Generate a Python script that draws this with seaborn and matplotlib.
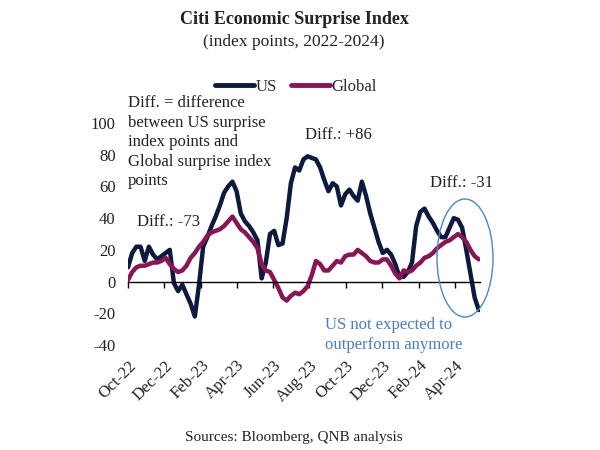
import numpy as np
import pandas as pd
import matplotlib
matplotlib.use("Agg")
import matplotlib.pyplot as plt
import matplotlib.dates as mdates
from matplotlib.patches import Ellipse
import seaborn as sns

# ---- data (weekly readings, index points) ----
start_date = "2022-10-01"
us_values = [9, 18, 22, 22, 13, 22, 17, 14, 16, 18,
             20, -1, -6, -2, -8, -14, -22, -2, 22, 28,
             35, 41, 48, 56, 60, 63, 57, 43, 38, 35,
             31, 26, 2, 12, 30, 32, 23, 24, 40, 62,
             72, 70, 77, 79, 78, 77, 72, 64, 57, 62,
             60, 48, 55, 58, 54, 51, 63, 54, 43, 34,
             25, 18, 20, 17, 11, 3, 3, 6, 12, 35,
             44, 46, 41, 37, 32, 28, 28, 34, 40, 39,
             34, 20, 5, -10, -18]
global_values = [1, 6, 9, 10, 10, 11, 12, 12, 13, 15,
                 11, 8, 6, 7, 10, 15, 18, 22, 25, 29,
                 31, 32, 33, 35, 38, 41, 37, 33, 31, 28,
                 25, 21, 11, 7, 6, 1, -4, -10, -12, -9,
                 -7, -8, -6, -3, 4, 13, 11, 7, 7, 10,
                 13, 12, 16, 17, 17, 20, 18, 16, 13, 12,
                 12, 14, 14, 10, 5, 2, 7, 6, 7, 10,
                 12, 15, 16, 18, 21, 23, 25, 26, 28, 30,
                 28, 25, 20, 16, 14]
series_names = ["US", "Global"]
series_colors = ["#0d1a3d", "#8a1553"]
tick_dates = ["2022-10-01", "2022-12-01", "2023-02-01", "2023-04-01", "2023-06-01",
              "2023-08-01", "2023-10-01", "2023-12-01", "2024-02-01", "2024-04-01"]
tick_labels = ["Oct-22", "Dec-22", "Feb-23", "Apr-23", "Jun-23",
               "Aug-23", "Oct-23", "Dec-23", "Feb-24", "Apr-24"]
y_ticks = [-40, -20, 0, 20, 40, 60, 80, 100]

dates = pd.date_range(start_date, periods=len(us_values), freq="7D")
df = pd.DataFrame({
    "date": np.concatenate([dates, dates]),
    "value": us_values + global_values,
    "series": [series_names[0]] * len(us_values) + [series_names[1]] * len(global_values),
})

sns.set_style("white")
plt.rcParams["font.family"] = ["Liberation Serif", "DejaVu Serif"]

fig = plt.figure(figsize=(6, 4.5), dpi=100)
ax = fig.add_axes([128 / 600, 1 - 345 / 450, 352 / 600, 222 / 450])

sns.lineplot(data=df, x="date", y="value", hue="series", hue_order=series_names,
             palette=series_colors, linewidth=3.2, ax=ax, legend=False)

ax.set_xlim(pd.Timestamp("2022-10-01"), pd.Timestamp("2024-05-13"))
ax.set_ylim(-40, 100)
ax.set_xlabel("")
ax.set_ylabel("")

for s in ["left", "right", "top"]:
    ax.spines[s].set_visible(False)
ax.spines["bottom"].set_position(("data", 0))
ax.spines["bottom"].set_color("black")
ax.spines["bottom"].set_linewidth(1.0)
tick_nums = mdates.date2num(pd.to_datetime(tick_dates))
ax.set_xticks(tick_nums)
ax.tick_params(axis="x", direction="out", length=4, width=1, color="black",
               labelbottom=False, bottom=True)

ax.set_yticks(y_ticks)
ax.set_yticklabels([str(v) for v in y_ticks])
ax.tick_params(axis="y", length=0, pad=9, labelsize=12, labelcolor="#222222")

sec = ax.secondary_xaxis("bottom")
sec.set_xticks(tick_nums)
sec.set_xticklabels(tick_labels, rotation=45, ha="right", va="top",
                    rotation_mode="anchor", fontsize=12, color="#222222")
sec.tick_params(length=0, pad=9)
sec.spines["bottom"].set_visible(False)

# legend
handles = [plt.Line2D([], [], color=c, linewidth=3.5) for c in series_colors]
fig.legend(handles, series_names, loc="center", bbox_to_anchor=(296 / 600, 1 - 87 / 450),
           ncol=2, frameon=False, fontsize=12, handlelength=2.3, handletextpad=0.1,
           columnspacing=0.9)

# titles and notes
fig.text(294 / 600, 1 - 20 / 450, "Citi Economic Surprise Index", ha="center", va="center",
         fontsize=13, fontweight="bold", color="#222222")
fig.text(294 / 600, 1 - 42 / 450, "(index points, 2022-2024)", ha="center", va="center",
         fontsize=12.5, color="#222222")
fig.text(294 / 600, 1 - 437 / 450, "Sources: Bloomberg, QNB analysis", ha="center",
         va="center", fontsize=11, color="#222222")

fig.text(128 / 600, 1 - 95 / 450,
         "Diff. = difference\nbetween US surprise\nindex points and\nGlobal surprise index\npoints",
         ha="left", va="top", fontsize=12, color="#222222", linespacing=1.3)
fig.text(137 / 600, 1 - 222 / 450, "Diff.: -73", ha="left", va="center", fontsize=12,
         color="#222222")
fig.text(305 / 600, 1 - 135 / 450, "Diff.: +86", ha="left", va="center", fontsize=12,
         color="#222222")
fig.text(430 / 600, 1 - 183 / 450, "Diff.: -31", ha="left", va="center", fontsize=12,
         color="#222222")
fig.text(325 / 600, 1 - 335 / 450, "US not expected to\noutperform anymore", ha="left",
         va="center", fontsize=12, color="#4a7cc4", linespacing=1.3)

ell = Ellipse((465 / 600, 1 - 258 / 450), 56 / 600, 118 / 450, transform=fig.transFigure,
              fill=False, edgecolor="#4a86c8", linewidth=1.0)
fig.patches.append(ell)

fig.savefig("out.png", dpi=100)
